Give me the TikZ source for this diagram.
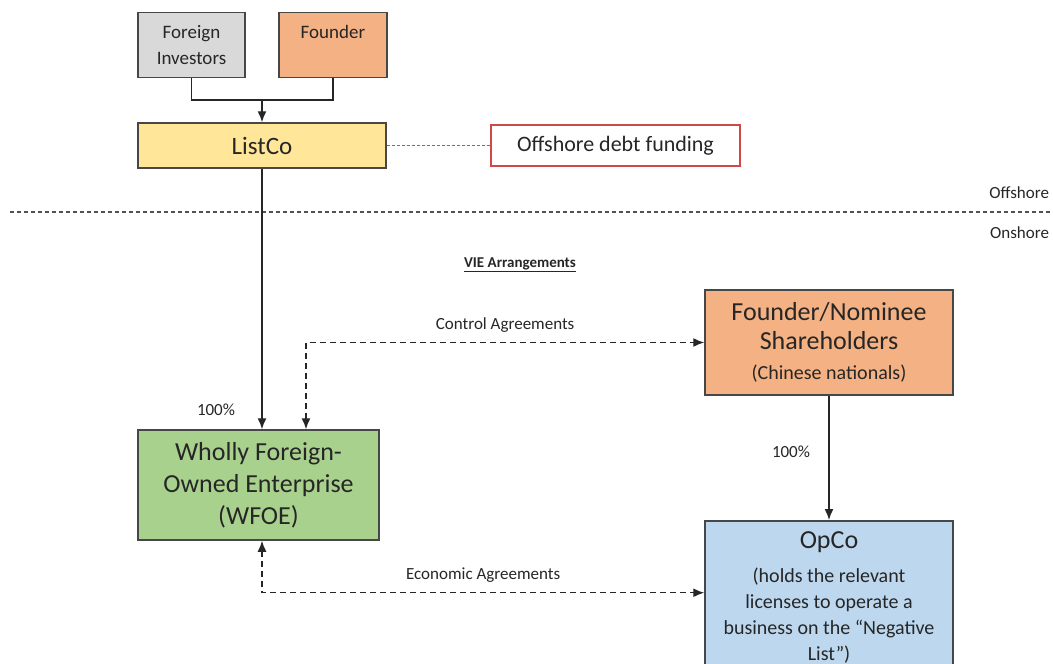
\documentclass[tikz,border=0pt]{standalone}
\usepackage{fontspec}
\setmainfont{Carlito}
\usepackage{tikz}
\usetikzlibrary{arrows, arrows.meta, positioning}
\definecolor{boxgray}{HTML}{D9D9D9}
\definecolor{boxorange}{HTML}{F4B183}
\definecolor{boxyellow}{HTML}{FFE699}
\definecolor{boxgreen}{HTML}{A9D18E}
\definecolor{boxblue}{HTML}{BDD7EE}
\definecolor{boxred}{HTML}{D04848}
\definecolor{txt}{HTML}{262626}

\begin{document}
\begin{tikzpicture}[x=1pt,y=-1pt,line width=1.4pt,>={Latex[length=11pt,width=9pt]},
		entity/.style={draw=txt!85, line width=1.5pt, align=center, text=txt, inner sep=2pt},
		agree/.style={txt, <->, dash pattern=on 6pt off 4pt},
		lbl/.style={text=txt, font=\fontsize{17}{20}\selectfont}]
			\useasboundingbox (0,0) rectangle (1053,664);
			\node[entity, fill=boxgray, minimum width=107pt, minimum height=65pt, font=\fontsize{19}{26}\selectfont] (FI) at (191.5,45) {Foreign\\Investors};
			\node[entity, fill=boxorange, minimum width=108pt, minimum height=65pt, font=\fontsize{19}{26}\selectfont] (Fd) at (333,45) {Founder\\\mbox{}};
			\node[entity, fill=boxyellow, minimum width=248pt, minimum height=45pt, font=\fontsize{25}{28}\selectfont] (LC) at (262,145.5) {ListCo};
			\node[entity, draw=boxred, fill=white, line width=1.2pt, minimum width=249pt, minimum height=41pt, font=\fontsize{22}{26}\selectfont] (Debt) at (615.5,145.5) {Offshore debt funding};
			\node[entity, fill=boxgreen, minimum width=241pt, minimum height=110pt, font=\fontsize{26}{32}\selectfont] (WF) at (258.5,485) {Wholly Foreign-\\Owned Enterprise\\(WFOE)};
			\node[entity, fill=boxorange, minimum width=248pt, minimum height=105pt, font=\fontsize{20}{24}\selectfont] (FN) at (829,342.5) {{\fontsize{26}{31}\selectfont Founder/Nominee}\\[5pt]{\fontsize{26}{31}\selectfont Shareholders}\\[6pt](Chinese nationals)};
			\node[entity, fill=boxblue, minimum width=248pt, minimum height=154pt, anchor=north] (Op) at (829,520) {};
			\node[text=txt, align=center, anchor=north, font=\fontsize{20}{26}\selectfont] (OpT) at (829,528) {{\fontsize{26}{28}\selectfont OpCo}\\[8pt](holds the relevant\\licenses to operate a\\business on the ``Negative\\List'')};

			% offshore / onshore split
			\coordinate (divL) at (10,212);
			\coordinate (divR) at (1053,212);
			\draw[txt!80, line width=1.3pt, dash pattern=on 4pt off 3pt] (divL) -- (divR);
			\node[lbl, anchor=east] (Off) at (1053,193) {Offshore};
			\node[lbl, anchor=east] (On) at (1053,233) {Onshore};
			\node[text=txt, font=\bfseries\fontsize{15}{18}\selectfont] (VIE) at (520,265) {\underline{VIE Arrangements}};

			% ownership
			\coordinate (join) at (262,100);
			\draw[txt] (FI.south) |- (join) -| (Fd.south);
			\draw[txt, ->] (join) -- (LC.north);
			\draw[boxred, dash pattern=on 3pt off 2pt, line width=1.6pt] (LC.east) -- (Debt.west);
			\draw[txt, ->] (LC.south) -- (LC.south |- WF.north);
			\node[lbl] (pctW) at (216,410) {100\%};
			\draw[txt, ->] (FN.south) -- (Op.north);
			\node[lbl] (pctO) at (791,452) {100\%};

			% agreements
			\draw[agree] ([xshift=47.5pt]WF.north) |- (FN.west)
				node[lbl, pos=0.75, above=6pt] {Control Agreements};
			\draw[agree] ([xshift=3.5pt]WF.south) |- ([yshift=5pt]Op.west)
				node[lbl, pos=0.75, above=6pt] {Economic Agreements};
		\end{tikzpicture}
\end{document}
